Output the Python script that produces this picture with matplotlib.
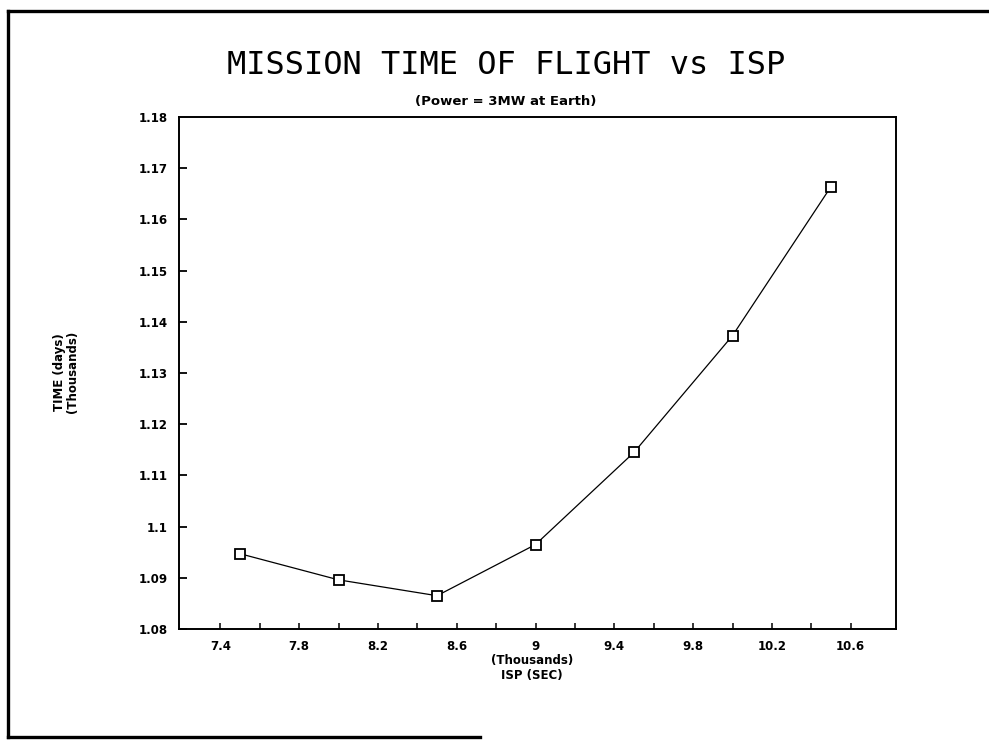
import matplotlib
matplotlib.use("Agg")
import matplotlib.pyplot as plt
from matplotlib.lines import Line2D
import numpy as np

plt.rcParams.update({
    "font.family": "DejaVu Sans",
    "font.weight": "bold",
})

# ── data ────────────────────────────────────────────────────────────────────
ISP_K   = [7.5, 8.0, 8.5, 9.0, 9.5, 10.0, 10.5]                 # ISP (sec), thousands
TIME_K  = [1.0947, 1.0896, 1.0865, 1.0965, 1.1145, 1.1373, 1.1664]  # days, thousands

X_TICKS  = [7.4, 7.8, 8.2, 8.6, 9.0, 9.4, 9.8, 10.2, 10.6]
X_LABELS = ["7.4", "7.8", "8.2", "8.6", "9", "9.4", "9.8", "10.2", "10.6"]
X_MINOR  = [7.6, 8.0, 8.4, 8.8, 9.2, 9.6, 10.0, 10.4]
Y_TICKS  = [1.08, 1.09, 1.10, 1.11, 1.12, 1.13, 1.14, 1.15, 1.16, 1.17, 1.18]
Y_LABELS = ["1.08", "1.09", "1.1", "1.11", "1.12", "1.13", "1.14",
            "1.15", "1.16", "1.17", "1.18"]

W, H = 989, 740
fig = plt.figure(figsize=(W / 100, H / 100), dpi=100)

# axes box in pixel terms: left 179, right 896, top 117, bottom 629
ax = fig.add_axes([179 / W, 1 - 629 / H, (896 - 179) / W, (629 - 117) / H])

ax.plot(ISP_K, TIME_K, color="black", linewidth=0.9,
        marker="s", markersize=7, markerfacecolor="white",
        markeredgecolor="black", markeredgewidth=1.3)

ax.set_xlim(7.19, 10.83)
ax.set_ylim(1.08, 1.18)

ax.set_xticks(X_TICKS)
ax.set_xticklabels(X_LABELS)
ax.set_xticks(X_MINOR, minor=True)
ax.set_yticks(Y_TICKS)
ax.set_yticklabels(Y_LABELS)

ax.tick_params(axis="x", which="both", direction="in", length=4.5,
               width=1.1, pad=8, labelsize=8.5)
ax.tick_params(axis="y", direction="in", length=6, width=1.3,
               pad=8, labelsize=8.5)
ax.tick_params(axis="y", which="major", left=True)
# no tick mark at the top corner (1.18 sits on the frame)
ax.yaxis.get_major_ticks()[-1].tick1line.set_visible(False)

for sp in ax.spines.values():
    sp.set_linewidth(1.4)

# ── texts ───────────────────────────────────────────────────────────────────
fig.text(506 / W, 1 - 65 / H, "MISSION TIME OF FLIGHT vs ISP",
         ha="center", va="center", fontsize=23,
         family="DejaVu Sans Mono", fontweight="normal")
fig.text(506 / W, 1 - 101 / H, "(Power = 3MW at Earth)",
         ha="center", va="center", fontsize=9.5, fontweight="bold")

fig.text(532 / W, 1 - 668 / H, "(Thousands)\nISP (SEC)",
         ha="center", va="center", fontsize=8.5, fontweight="bold",
         linespacing=1.25)
fig.text(66 / W, 1 - 372 / H, "TIME (days)\n(Thousands)",
         ha="center", va="center", rotation=90, fontsize=8.5,
         fontweight="bold", linespacing=1.1)

# ── page frame from the scan (left, top, bottom part) ──────────────────────
fig.add_artist(Line2D([8 / W, 8 / W], [1 - 11 / H, 1 - 737 / H],
                      transform=fig.transFigure, color="black", linewidth=2.4))
fig.add_artist(Line2D([8 / W, 1.0], [1 - 11 / H, 1 - 11 / H],
                      transform=fig.transFigure, color="black", linewidth=2.4))
fig.add_artist(Line2D([8 / W, 480 / W], [1 - 737 / H, 1 - 737 / H],
                      transform=fig.transFigure, color="black", linewidth=2.4))

fig.savefig("out.png", dpi=100)
